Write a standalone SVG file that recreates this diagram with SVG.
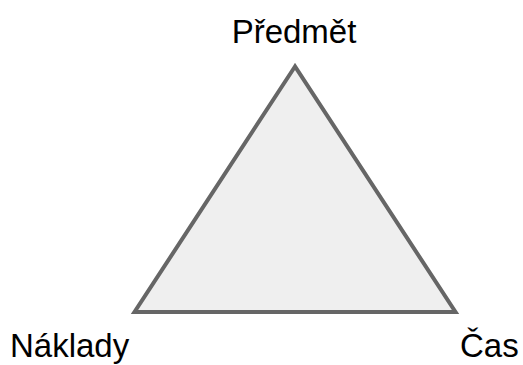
<svg xmlns="http://www.w3.org/2000/svg" width="523" height="365" viewBox="0 0 523 365">
<style>
.lbl{font-family:"Liberation Sans",Arial,sans-serif;font-size:33px;fill:#000}
.tri{fill:#efefef;stroke:#666;stroke-width:4;stroke-linejoin:miter}
</style>
<rect width="523" height="365" fill="#fff"/>
<g id="triangle"><polygon class="tri" points="295,66.5 134.5,312 455.5,312"/></g>
<g id="predmet"><text class="lbl" x="294" y="43" text-anchor="middle">Předmět</text></g>
<g id="naklady"><text class="lbl" x="10" y="357">Náklady</text></g>
<g id="cas"><text class="lbl" x="460" y="357">Čas</text></g>
</svg>
